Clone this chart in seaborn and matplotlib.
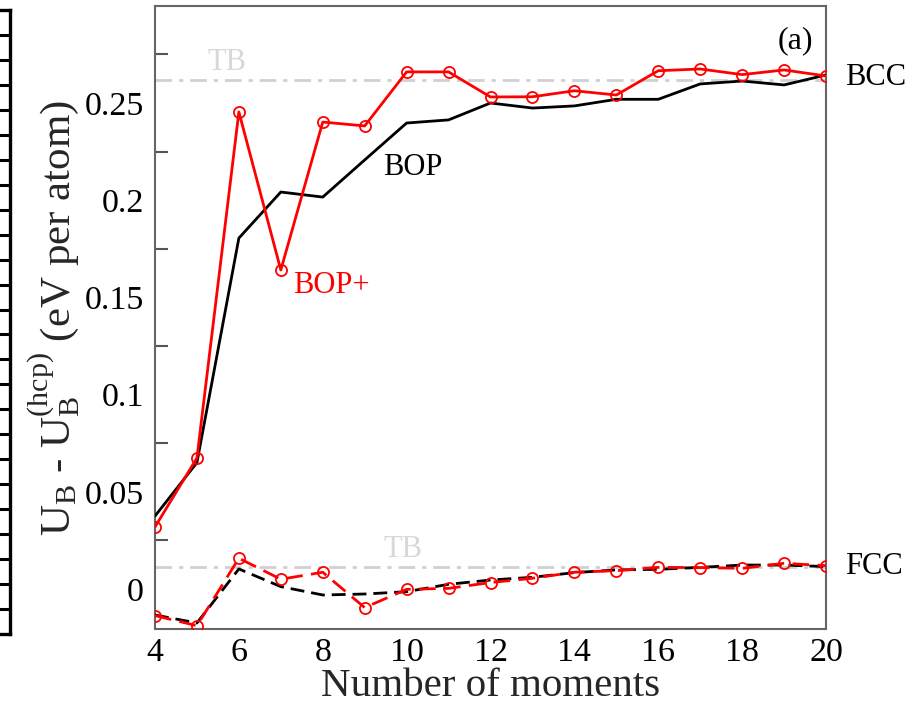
import matplotlib
matplotlib.use("Agg")
import matplotlib.pyplot as plt
from matplotlib.ticker import MultipleLocator
import numpy as np
import pandas as pd
import seaborn as sns

# Number of moments used in the expansion
moments = list(range(4, 21))

# Structural energy differences relative to hcp (eV per atom)
bcc_bop = [0.0375, 0.065, 0.1805, 0.2042, 0.2016, 0.2207, 0.2397, 0.2413, 0.2500,
           0.2474, 0.2485, 0.2519, 0.2519, 0.2598, 0.2613, 0.2593, 0.2644]
bcc_bop_plus = [0.0319, 0.0674, 0.2454, 0.1641, 0.2402, 0.2382, 0.2660, 0.2660, 0.2531,
                0.2532, 0.2563, 0.2541, 0.2666, 0.2675, 0.2646, 0.2670, 0.2639]
fcc_bop = [-0.0134, -0.0175, 0.0103, 0.0012, -0.0031, -0.0026, -0.0014, 0.0024, 0.0046,
           0.0060, 0.0084, 0.0098, 0.0101, 0.0111, 0.0123, 0.0123, 0.0115]
fcc_bop_plus = [-0.0137, -0.0189, 0.0158, 0.0050, 0.0086, -0.0096, -0.0002, 0.0003, 0.0033,
                0.0055, 0.0086, 0.0094, 0.0111, 0.0110, 0.0106, 0.0132, 0.0120]

# Tight-binding reference values
tb_bcc = 0.2618
tb_fcc = 0.0113

sns.set_theme(style="white")
plt.rcParams["font.family"] = ["Liberation Serif", "DejaVu Serif"]
plt.rcParams["mathtext.fontset"] = "custom"
plt.rcParams["mathtext.rm"] = "Liberation Serif"
plt.rcParams["mathtext.it"] = "Liberation Serif:italic"

fig = plt.figure(figsize=(9.08, 7.08), dpi=100)
W, H = 908, 708

# Edge of the neighbouring panel on the left
side = fig.add_axes([-0.3, 1 - 634 / H, 0.3 + 10 / W, (634 - 10) / H])
side.set_xlim(0, 1)
side.set_ylim(0, 25)
side.set_xticks([])
side.yaxis.tick_right()
side.set_yticks(range(1, 25))
side.tick_params(axis="y", direction="in", length=8, width=2.2, color="black",
                 labelright=False, labelleft=False, right=True, left=False)
for s in side.spines.values():
    s.set_color("black")
    s.set_linewidth(2.4)
side.spines["left"].set_visible(False)
side.patch.set_alpha(0)

ax = fig.add_axes([155 / W, 1 - 629 / H, (826 - 155) / W, (629 - 6) / H])

df = pd.DataFrame({
    "moments": moments,
    "bcc_bop": bcc_bop,
    "bcc_bop_plus": bcc_bop_plus,
    "fcc_bop": fcc_bop,
    "fcc_bop_plus": fcc_bop_plus,
})

# Tight-binding reference lines
ax.axhline(tb_bcc, color="#d0d0d0", lw=2.0, dashes=(6, 2.5, 1.5, 2.5), zorder=1)
ax.axhline(tb_fcc, color="#d0d0d0", lw=2.0, dashes=(6, 2.5, 1.5, 2.5), zorder=1)

sns.lineplot(data=df, x="moments", y="bcc_bop", color="black", lw=2.0, ax=ax, zorder=3)
sns.lineplot(data=df, x="moments", y="bcc_bop_plus", color="#ff0000", lw=2.0, ax=ax,
             marker="o", markersize=8, markerfacecolor="none", markeredgecolor="#ff0000",
             markeredgewidth=1.3, zorder=4)
sns.lineplot(data=df, x="moments", y="fcc_bop", color="black", lw=2.0, ax=ax, zorder=3,
             dashes=False, linestyle=(0, (5, 2.5)))
sns.lineplot(data=df, x="moments", y="fcc_bop_plus", color="#ff0000", lw=2.0, ax=ax,
             marker="o", markersize=8, markerfacecolor="none", markeredgecolor="#ff0000",
             markeredgewidth=1.3, zorder=4, linestyle=(0, (6, 3)))

ax.set_xlim(4, 20)
ax.set_ylim(-0.0206, 0.2999)
ax.xaxis.set_major_locator(MultipleLocator(2))
ax.yaxis.set_minor_locator(MultipleLocator(0.025))
ax.set_yticks([0, 0.05, 0.1, 0.15, 0.2, 0.25])
ax.set_yticklabels(["0", "0.05", "0.1", "0.15", "0.2", "0.25"])
ax.tick_params(axis="both", which="major", direction="in", length=17, width=1.5,
               color="#555555", labelsize=24.5, pad=6, labelcolor="black")
ax.tick_params(axis="y", which="minor", direction="in", length=9, width=1.5,
               color="#555555", left=True)
ax.tick_params(axis="y", which="major", pad=8)
for s in ax.spines.values():
    s.set_color("#666666")
    s.set_linewidth(1.5)

ax.set_xlabel("Number of moments", fontsize=29.5, labelpad=0)
ax.set_ylabel(r"U$_\mathregular{B}$ - U$_\mathregular{B}^\mathregular{(hcp)}$ (eV per atom)",
              fontsize=31, labelpad=2)

# Annotations
ax.text(5.25, 0.2635, "TB", color="#d8d8d8", fontsize=22, ha="left", va="bottom")
ax.text(9.45, 0.0128, "TB", color="#d8d8d8", fontsize=22, ha="left", va="bottom")
ax.text(9.45, 0.2166, "BOP", color="black", fontsize=22, ha="left", va="center")
ax.text(7.29, 0.156, "BOP+", color="#ff0000", fontsize=22, ha="left", va="center")
ax.text(18.85, 0.282, "(a)", color="black", fontsize=23, ha="left", va="center")
ax.text(20.45, 0.263, "BCC", color="black", fontsize=22, ha="left", va="center", clip_on=False)
ax.text(20.45, 0.0113, "FCC", color="black", fontsize=22, ha="left", va="center", clip_on=False)

fig.savefig("out.png", dpi=100)
